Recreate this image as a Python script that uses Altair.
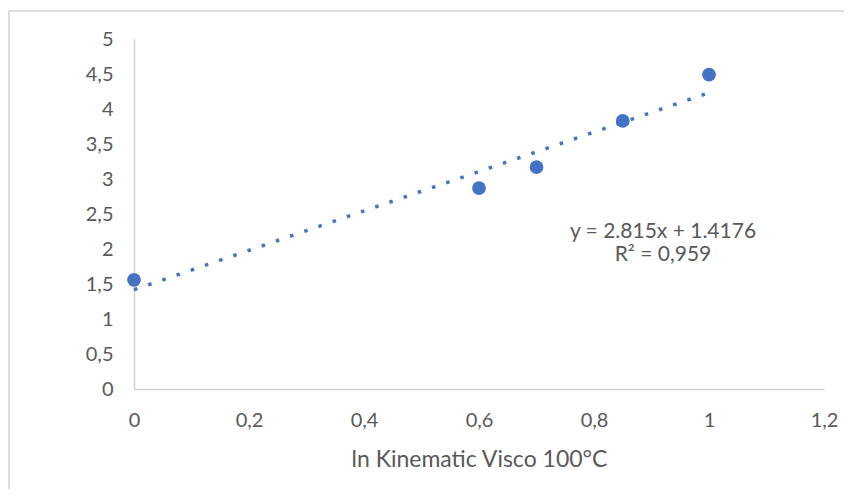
import altair as alt
import pandas as pd

# data
X_VALUES = [0.0, 0.6, 0.7, 0.85, 1.0]
Y_VALUES = [1.56, 2.87, 3.17, 3.83, 4.49]
TREND_SLOPE = 2.815
TREND_INTERCEPT = 1.4176
TREND_X = [0.0, 1.0]
EQUATION_LINES = ["y = 2.815x + 1.4176", "R² = 0,959"]
X_TICKS = [0, 0.2, 0.4, 0.6, 0.8, 1.0, 1.2]
Y_TICKS = [0, 0.5, 1, 1.5, 2, 2.5, 3, 3.5, 4, 4.5, 5]
X_TITLE = "ln Kinematic Visco 100°C"

FONT = "Lato"
GREY = "#595959"
BLUE = "#4472C4"

points = pd.DataFrame({"x": X_VALUES, "y": Y_VALUES})
trend = pd.DataFrame({"x": TREND_X})
ann = pd.DataFrame({"x": [0.92], "y": [2.25], "t": [EQUATION_LINES]})

comma = "replace(format(datum.value, ''), '.', ',')"

x_enc = alt.X(
    "x:Q",
    scale=alt.Scale(domain=[0, 1.2], nice=False, zero=False),
    axis=alt.Axis(values=X_TICKS, labelExpr=comma, title=X_TITLE, grid=False,
                  ticks=False, labelPadding=21, titlePadding=18, labelFlush=False,
                  domainColor="#d0d0d0", domainWidth=1.5),
)
y_enc = alt.Y(
    "y:Q",
    scale=alt.Scale(domain=[0, 5], nice=False),
    axis=alt.Axis(values=Y_TICKS, labelExpr=comma, title=None, grid=False,
                  ticks=False, labelPadding=21, labelFlush=False,
                  domainColor="#d0d0d0", domainWidth=1.5),
)

frame_left = alt.Chart(pd.DataFrame({"a": [0]})).mark_rule(color="#dcdcdc", strokeWidth=2).encode(
    x=alt.value(-125), y=alt.value(-28), y2=alt.value(470))
frame_top = alt.Chart(pd.DataFrame({"a": [0]})).mark_rule(color="#dcdcdc", strokeWidth=2).encode(
    x=alt.value(-125), x2=alt.value(720), y=alt.value(-28))

trend_line = alt.Chart(trend).transform_calculate(
    y=f"{TREND_SLOPE} * datum.x + {TREND_INTERCEPT}"
).mark_line(color=BLUE, strokeWidth=3.5, strokeDash=[3.5, 11.5], strokeCap="butt").encode(
    x=x_enc, y=y_enc)

dots = alt.Chart(points).mark_circle(color=BLUE, size=190, opacity=1).encode(x=x_enc, y=y_enc)

text = alt.Chart(ann).mark_text(font=FONT, fontSize=21, color=GREY, align="center",
                                 baseline="middle", lineHeight=23).encode(
    x=x_enc, y=y_enc, text="t")

chart = alt.layer(frame_left, frame_top, trend_line, dots, text).properties(
    width=690, height=350,
    autosize=alt.AutoSizeParams(type="none"),
    padding={"left": 126, "top": 31, "right": 20, "bottom": 100},
).configure_view(stroke=None).configure_axis(
    labelFont=FONT, labelFontSize=20, labelColor=GREY,
    titleFont=FONT, titleFontSize=23, titleColor=GREY, titleFontWeight="normal",
)

chart.save("out.html", embed_options={"renderer": "svg", "actions": False})
